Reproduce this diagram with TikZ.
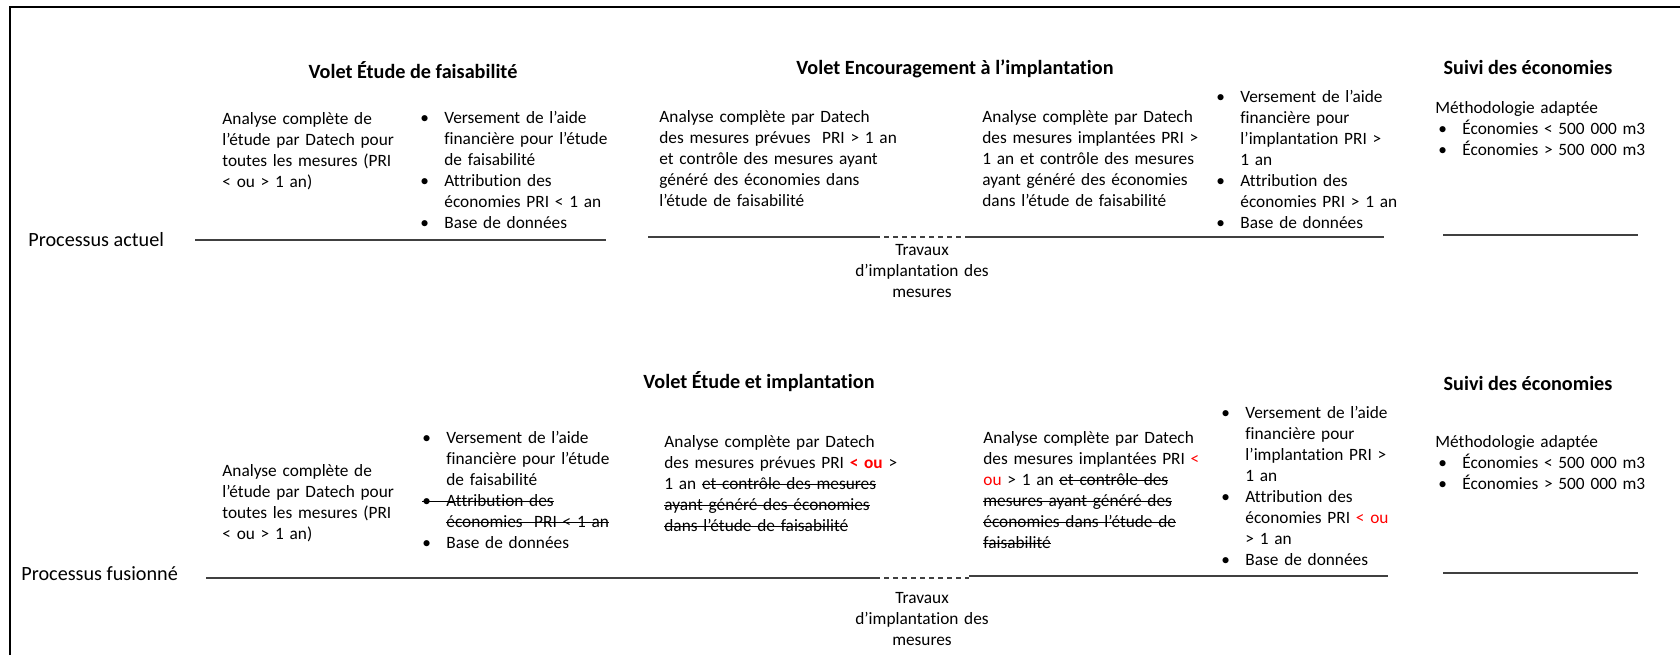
\documentclass[tikz,border=0pt]{standalone}
\usepackage{fontspec}
\setmainfont{Carlito}[Ligatures=NoCommon]
\newcommand{\puce}{\makebox[12pt][l]{\textbullet}}
\newcommand{\retrait}{\hspace*{12pt}}
\newsavebox{\boitebarre}
\newcommand{\barre}[1]{\leavevmode\sbox{\boitebarre}{#1}\rlap{\rule[0.24em]{\wd\boitebarre}{0.45pt}}\usebox{\boitebarre}}
\tikzset{
  corps/.style={font=\fontsize{8.65}{10.5}\selectfont, text width=130pt, align=left, inner sep=0pt, anchor=base west},
  titre/.style={font=\fontsize{10.1}{12}\selectfont\bfseries, inner sep=0pt, anchor=base},
  processus/.style={font=\fontsize{10.1}{12}\selectfont, inner sep=0pt, anchor=base west},
  travaux/.style={corps, align=center, anchor=base},
  ligne/.style={line width=0.8pt, black!75},
  pointille/.style={ligne, dash pattern=on 2.5pt off 2pt},
}
\begin{document}
\begin{tikzpicture}[x=0.5pt,y=-0.5pt]
\useasboundingbox (0,0) rectangle (1680,655);
\draw[line width=1pt] (10,655) -- (10,7) -- (1680,7);
% processus actuel
\node[titre] (vef) at (413,78) {Volet Étude de faisabilité};
\node[titre] (vei) at (955,74) {Volet Encouragement à l’implantation};
\node[titre] (sui1) at (1528,74) {Suivi des économies};
\node[corps] (ana1) at (222,124) {Analyse complète de\\ l’étude par Datech pour\\ toutes les mesures (PRI\\ < ou > 1 an)};
\node[corps] (ver1) at (420,123) {\puce Versement de l’aide\\ \retrait financière pour l’étude\\ \retrait de faisabilité\\ \puce Attribution des\\ \retrait économies PRI < 1 an\\ \puce Base de données};
\node[corps] (prev1) at (659,122) {Analyse complète par Datech\\ des mesures prévues \ PRI > 1 an\\ et contrôle des mesures ayant\\ généré des économies dans\\ l’étude de faisabilité};
\node[corps] (impl1) at (982,122) {Analyse complète par Datech\\ des mesures implantées PRI >\\ 1 an et contrôle des mesures\\ ayant généré des économies\\ dans l’étude de faisabilité};
\node[corps] (ver2) at (1216,102) {\puce Versement de l’aide\\ \retrait financière pour\\ \retrait l’implantation PRI >\\ \retrait 1 an\\ \puce Attribution des\\ \retrait économies PRI > 1 an\\ \puce Base de données};
\node[corps] (met1) at (1435,113) {Méthodologie adaptée\\ \hspace*{1.5pt}\puce Économies < 500 000 m3\\ \hspace*{1.5pt}\puce Économies > 500 000 m3};
\node[processus] (pa) at (28,246) {Processus actuel};
\node[travaux] (trav1) at (922,255) {Travaux\\ d’implantation des\\ mesures};
\coordinate (a0) at (195,240);
\coordinate (a1) at (606,240);
\coordinate (b0) at (648,237);
\coordinate (b1) at (875,237);
\coordinate (b2) at (965,237);
\coordinate (b3) at (1384,237);
\coordinate (s0) at (1443,235);
\coordinate (s1) at (1638,235);
\draw[ligne] (a0) -- (a1);
\draw[ligne] (b0) -- (b1);
\draw[pointille] (b1) -- (b2);
\draw[ligne] (b2) -- (b3);
\draw[ligne] (s0) -- (s1);
% processus fusionne
\node[titre] (vet) at (759,388) {Volet Étude et implantation};
\node[titre] (sui2) at (1528,390) {Suivi des économies};
\node[corps] (ana2) at (222,476) {Analyse complète de\\ l’étude par Datech pour\\ toutes les mesures (PRI\\ < ou > 1 an)};
\node[corps] (ver3) at (422,443) {\puce Versement de l’aide\\ \retrait financière pour l’étude\\ \retrait de faisabilité\\ \barre{\puce Attribution des}\\ \retrait\barre{économies \ PRI < 1 an}\\ \puce Base de données};
\node[corps] (prev2) at (664,447) {Analyse complète par Datech\\ des mesures prévues PRI \textcolor{red}{\textbf{< ou}} >\\ 1 an \barre{et contrôle des mesures}\\ \barre{ayant généré des économies}\\ \barre{dans l’étude de faisabilité}};
\node[corps] (impl2) at (983,443) {Analyse complète par Datech\\ des mesures implantées PRI \textcolor{red}{<}\\ \textcolor{red}{ou} > 1 an \barre{et contrôle des}\\ \barre{mesures ayant généré des}\\ \barre{économies dans l’étude de}\\ \barre{faisabilité}};
\node[corps] (ver4) at (1221,418) {\puce Versement de l’aide\\ \retrait financière pour\\ \retrait l’implantation PRI >\\ \retrait 1 an\\ \puce Attribution des\\ \retrait économies PRI \textcolor{red}{< ou}\\ \retrait > 1 an\\ \puce Base de données};
\node[corps] (met2) at (1435,447) {Méthodologie adaptée\\ \hspace*{1.5pt}\puce Économies < 500 000 m3\\ \hspace*{1.5pt}\puce Économies > 500 000 m3};
\node[processus] (pf) at (21,580) {Processus fusionné};
\node[travaux] (trav2) at (922,603) {Travaux\\ d’implantation des\\ mesures};
\coordinate (c0) at (206,578);
\coordinate (c1) at (875,578);
\coordinate (c2) at (969,578);
\coordinate (c3) at (969,576);
\coordinate (c4) at (1388,576);
\coordinate (t0) at (1443,573);
\coordinate (t1) at (1638,573);
\draw[ligne] (c0) -- (c1);
\draw[pointille] (c1) -- (c2);
\draw[ligne] (c3) -- (c4);
\draw[ligne] (t0) -- (t1);
\end{tikzpicture}
\end{document}
